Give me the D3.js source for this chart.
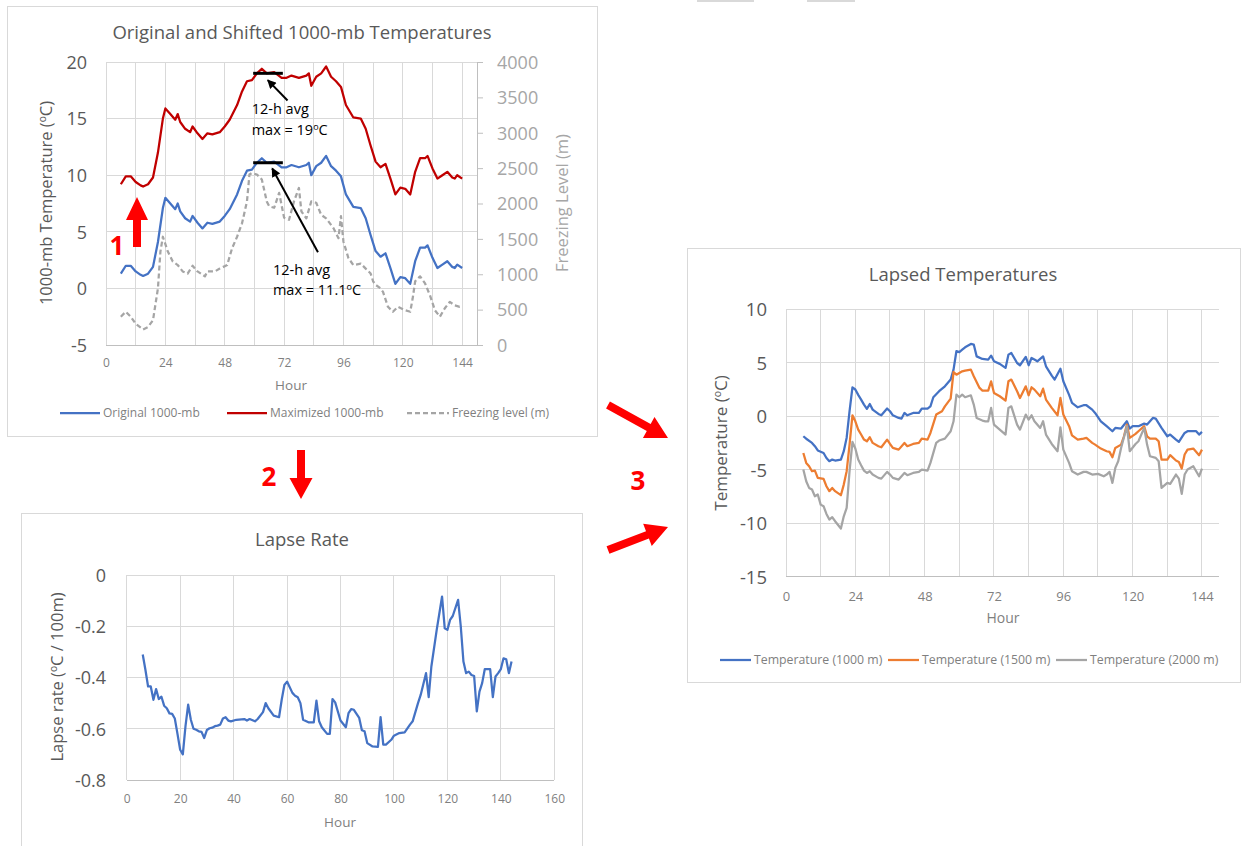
<!DOCTYPE html>
<html>
<head>
<meta charset="utf-8">
<script src="https://cdn.jsdelivr.net/npm/d3@7"></script>
<style>
  body { margin: 0; background: #fff; }
  svg { font-family: "Open Sans", sans-serif; }
</style>
</head>
<body>
<svg id="fig" width="1241" height="846"></svg>
<script>
// ---- data ----
// 1000-mb temperatures (original and shifted by the 12-h max difference)
const shiftHours = [6,8,10,12,14,15,17,19,21,23,24,26,28,29,30,32,34,35,37,39,41,43,46,48,50,53,55,57,59,61,63,65,68,71,73,75,78,81,82,83,85,87,89,91,93,95,97,100,103,105,107,109,111,113,115,117,119,121,123,125,127,129,130,132,134,136,138,140,141,142,144];
const origTemp = [1.3,2.0,2.0,1.5,1.2,1.1,1.3,1.9,4.1,7.1,8.0,7.5,7.0,7.5,6.8,6.2,5.9,6.4,5.8,5.3,5.8,5.7,5.9,6.4,7.0,8.3,9.5,10.4,10.5,11.1,11.5,11.1,11.2,10.7,10.7,10.9,10.7,10.9,11.1,10.0,10.8,11.1,11.7,10.8,10.4,9.9,8.3,7.2,7.1,6.2,4.7,3.3,2.8,3.1,1.8,0.4,1.0,0.9,0.4,2.4,3.6,3.6,3.8,2.7,1.8,2.1,2.4,1.9,1.8,2.1,1.8];
const maxTemp = [9.2,9.9,9.9,9.4,9.1,9.0,9.2,9.8,12.0,15.0,15.9,15.4,14.9,15.4,14.7,14.1,13.8,14.3,13.7,13.2,13.7,13.6,13.8,14.3,14.9,16.2,17.4,18.3,18.4,19.0,19.4,19.0,19.1,18.6,18.6,18.8,18.6,18.8,19.0,17.9,18.7,19.0,19.6,18.7,18.3,17.8,16.2,15.1,15.0,14.1,12.6,11.2,10.7,11.0,9.7,8.3,8.9,8.8,8.3,10.3,11.5,11.5,11.7,10.6,9.7,10.0,10.3,9.8,9.7,10.0,9.7];

// freezing level (m), secondary axis
const freezeHours = [6,8,10,12,15,17,19,21,22,23,25,27,29,31,33,35,37,40,41,44,46,49,51,53,55,57,58,59,61,63,65,66,68,70,72,74,76,78,79,81,83,85,87,89,92,94,95,96,98,100,103,105,107,108,109,111,112,114,116,118,121,123,124,125,127,129,131,133,135,137,139,141,143,144];
const freezeLevel = [400,470,400,300,220,255,350,800,1320,1530,1320,1180,1130,1040,1010,1120,1040,970,1040,1040,1080,1130,1370,1530,1720,2030,2410,2430,2410,2340,2030,1960,1940,2150,1800,1770,2030,2220,1890,1790,2030,2010,1840,1790,1650,1510,1820,1460,1230,1130,1150,1080,1010,900,850,800,750,540,470,540,490,470,660,900,970,870,700,490,400,520,610,560,540,550];

// lapse rate (degC / 100 m)
const lapseHours = [6,7,8,9,10,11,12,13,14,15,16,17,18,19,20,21,22,23,24,25,26,27,28,29,30,31,32,33,34,35,36,37,38,39,41,44,45,46,48,49,51,52,53,55,57,58,59,60,62,63,64,65,66,68,70,71,72,73,75,76,77,78,80,82,83,84,85,87,88,89,90,92,94,95,96,97,99,100,102,104,106,107,109,110,112,113,114,116,118,119,120,121,122,124,125,126,127,128,129,130,131,132,133,134,136,137,138,139,140,141,142,143,144];
const lapseRate = [-0.31,-0.37,-0.435,-0.435,-0.487,-0.445,-0.484,-0.475,-0.51,-0.52,-0.54,-0.542,-0.56,-0.62,-0.682,-0.70,-0.59,-0.506,-0.565,-0.60,-0.604,-0.61,-0.612,-0.636,-0.605,-0.598,-0.596,-0.59,-0.588,-0.584,-0.56,-0.555,-0.568,-0.571,-0.565,-0.562,-0.568,-0.562,-0.571,-0.562,-0.535,-0.50,-0.52,-0.549,-0.555,-0.487,-0.429,-0.416,-0.46,-0.471,-0.477,-0.50,-0.565,-0.575,-0.575,-0.49,-0.571,-0.594,-0.62,-0.62,-0.484,-0.497,-0.568,-0.594,-0.539,-0.523,-0.526,-0.558,-0.606,-0.61,-0.656,-0.669,-0.671,-0.555,-0.662,-0.662,-0.643,-0.627,-0.617,-0.614,-0.584,-0.571,-0.50,-0.468,-0.383,-0.477,-0.357,-0.214,-0.084,-0.208,-0.214,-0.175,-0.16,-0.097,-0.20,-0.338,-0.383,-0.377,-0.39,-0.394,-0.532,-0.455,-0.422,-0.367,-0.367,-0.477,-0.396,-0.383,-0.367,-0.325,-0.329,-0.383,-0.338];

// lapsed temperatures at three elevations
const t1000Hours = [6,7,9,10,11,13,14,15,16,17,19,20,21,22,23,24,25,26,27,28,29,30,32,33,35,36,37,39,40,41,42,44,46,47,49,50,51,53,55,57,58,59,60,61,62,64,65,66,68,70,71,72,74,76,77,78,80,81,83,84,85,86,87,89,90,92,93,95,96,98,99,101,103,104,106,107,109,111,113,114,116,118,119,120,122,124,125,127,128,130,132,133,135,136,138,139,142,143,144];
const t1000 = [-1.87,-2.1,-2.49,-2.8,-3.2,-3.43,-3.9,-4.2,-4.05,-4.14,-4.05,-3.27,-2.0,0.47,2.7,2.5,2.0,1.56,1.09,0.69,1.15,0.62,0.22,0.09,0.72,0.47,0.09,-0.16,-0.22,0.31,0.09,0.31,0.31,0.72,0.72,0.93,1.78,2.34,2.8,3.43,4.36,6.1,6.0,6.23,6.45,6.76,6.7,5.6,5.36,5.3,5.67,5.14,4.9,4.52,5.76,5.92,4.98,4.77,5.55,4.77,5.45,5.3,5.14,5.6,4.67,3.8,3.43,4.45,3.27,2.0,1.25,0.84,1.03,1.03,0.62,0.31,-0.47,-0.93,-1.4,-1.09,-1.15,-0.47,-1.15,-0.93,-0.93,-0.69,-0.78,-0.16,-0.22,-1.09,-1.87,-1.71,-2.18,-2.4,-1.56,-1.4,-1.4,-1.71,-1.46];
const t1500Hours = [6,7,8,9,10,11,13,14,15,16,17,19,20,21,22,23,24,25,26,27,28,29,30,32,33,35,36,37,39,41,42,44,46,47,49,50,52,54,55,57,58,59,61,62,64,65,67,68,70,71,72,74,76,77,78,80,81,83,84,85,86,88,89,90,92,94,95,96,98,99,101,103,104,106,107,109,111,112,113,114,116,117,118,119,121,122,124,125,126,128,129,130,132,133,135,136,137,138,139,141,143,144];
const t1500 = [-3.43,-4.36,-4.67,-5.14,-5.08,-5.76,-5.86,-6.54,-7.0,-6.7,-7.0,-7.38,-6.39,-5.14,-2.65,0.09,-0.47,-1.25,-1.71,-2.18,-2.34,-1.96,-2.49,-2.8,-2.9,-2.18,-2.59,-2.96,-3.12,-2.49,-2.8,-2.59,-2.49,-2.09,-2.18,-1.56,0.16,0.47,0.93,1.65,4.14,3.89,4.2,4.27,4.36,3.74,2.65,2.4,2.4,3.27,2.18,1.87,1.46,3.27,3.43,2.34,1.71,2.8,1.96,2.71,2.49,1.87,2.58,1.56,0.78,0.09,1.71,0.16,-0.93,-1.78,-2.18,-2.09,-2.02,-2.49,-2.65,-3.02,-3.27,-3.33,-3.83,-2.96,-2.65,-1.87,-0.78,-2.02,-1.65,-1.4,-0.93,-1.87,-2.09,-2.09,-2.34,-4.05,-4.05,-3.64,-4.14,-4.27,-4.89,-3.58,-3.12,-3.02,-3.64,-3.12];
const t2000Hours = [6,7,8,9,10,11,12,13,14,15,16,17,19,20,21,22,23,24,25,26,27,28,29,30,32,33,35,36,37,39,41,42,44,46,47,49,50,52,53,55,57,58,59,60,61,62,64,65,66,68,69,70,71,72,74,76,77,78,80,81,83,84,85,86,88,89,90,92,94,95,96,98,99,101,103,104,106,108,110,111,112,113,114,115,116,118,119,121,122,124,125,126,128,129,130,132,133,135,136,137,138,139,141,143,144];
const t2000 = [-4.98,-6.07,-6.7,-6.85,-7.48,-7.32,-8.26,-8.41,-9.13,-9.66,-9.44,-9.81,-10.5,-9.35,-8.57,-5.14,-2.4,-3.02,-4.05,-4.58,-5.08,-5.3,-5.14,-5.45,-5.76,-5.83,-5.2,-5.45,-5.76,-5.92,-5.3,-5.51,-5.3,-5.2,-4.98,-5.08,-4.36,-2.49,-2.27,-2.09,-1.4,-0.47,2.02,1.78,2.02,1.78,1.96,1.09,-0.16,-0.4,-0.47,-0.47,0.78,-0.78,-1.25,-1.71,0.78,0.93,-0.78,-1.25,0.16,-0.31,0.09,-0.47,-1.09,-0.47,-1.71,-2.59,-3.27,-1.03,-3.12,-4.36,-5.14,-5.45,-5.2,-5.2,-5.45,-5.39,-5.61,-5.45,-5.2,-6.23,-4.83,-4.2,-2.96,-0.93,-3.27,-2.59,-2.34,-1.09,-2.65,-3.74,-3.89,-4.2,-6.7,-6.23,-6.32,-5.45,-5.83,-7.26,-5.45,-4.98,-4.67,-5.61,-4.89];

// ticks
const topXTicks = [0,24,48,72,96,120,144];
const topYTicks = [-5,0,5,10,15,20];
const freezeTicks = [0,500,1000,1500,2000,2500,3000,3500,4000];
const lapseXTicks = [0,20,40,60,80,100,120,140,160];
const lapseYTicks = [-0.8,-0.6,-0.4,-0.2,0];
const lapsedYTicks = [-15,-10,-5,0,5,10];

// ---- styles ----
const GRID = "#d9d9d9", AXIS = "#bfbfbf", TXT = "#595959", TXT2 = "#7f7f7f";
const BLUE = "#4472c4", RED = "#c00000", ORANGE = "#ed7d31", GREY = "#a5a5a5", ARROW = "#ff0000";

const svg = d3.select("#fig");
svg.append("rect").attr("width", 1241).attr("height", 846).attr("fill", "#fff");
svg.append("defs").append("marker")
    .attr("id", "ah")
    .attr("viewBox", "0 0 10 10")
    .attr("refX", 9).attr("refY", 5)
    .attr("markerWidth", 10).attr("markerHeight", 9)
    .attr("markerUnits", "userSpaceOnUse")
    .attr("orient", "auto")
    .append("path").attr("d", "M0,0L10,5L0,10z").attr("fill", "#000");

function panel(x, y, w, h){
    svg.append("rect")
        .attr("x", x + 0.5).attr("y", y + 0.5)
        .attr("width", w).attr("height", h)
        .attr("fill", "#fff").attr("stroke", GRID);
}

function grid(x, y, xs, ys){
    const g = svg.append("g").attr("shape-rendering", "crispEdges");
    g.selectAll(null).data(xs).enter().append("line")
        .attr("x1", d => x(d)).attr("x2", d => x(d))
        .attr("y1", y.range()[0]).attr("y2", y.range()[1])
        .attr("stroke", GRID);
    g.selectAll(null).data(ys).enter().append("line")
        .attr("x1", x.range()[0]).attr("x2", x.range()[1])
        .attr("y1", d => y(d)).attr("y2", d => y(d))
        .attr("stroke", GRID);
    // horizontal axis line
    g.append("line")
        .attr("x1", x.range()[0]).attr("x2", x.range()[1])
        .attr("y1", y.range()[0]).attr("y2", y.range()[0])
        .attr("stroke", AXIS);
}

function xTicks(x, vals, ypos, fs){
    const ax = svg.append("g")
        .attr("transform", `translate(0,${ypos})`)
        .call(d3.axisBottom(x).tickValues(vals).tickSize(0).tickPadding(0).tickFormat(d => String(d)));
    ax.select(".domain").remove();
    ax.selectAll("text").attr("y", 0).attr("dy", "0.35em")
        .attr("fill", TXT2).style("font-size", fs + "px").style("font-family", "Open Sans");
}

function yTicks(y, vals, xpos, fs, fmt){
    const ax = svg.append("g")
        .attr("transform", `translate(${xpos},0)`)
        .call(d3.axisLeft(y).tickValues(vals).tickSize(0).tickPadding(0).tickFormat(fmt || (d => String(d))));
    ax.select(".domain").remove();
    ax.selectAll("text").attr("x", 0).attr("dy", "0.35em")
        .attr("fill", TXT).style("font-size", fs + "px").style("font-family", "Open Sans");
}

function text(x, y, str, fs, color, anchor){
    return svg.append("text")
        .attr("x", x).attr("y", y).attr("dy", "0.35em")
        .attr("text-anchor", anchor || "middle")
        .attr("fill", color).style("font-size", fs + "px")
        .text(str);
}

// text with a small raised "o" used as the degree sign
function degText(sel, before, after){
    sel.append("tspan").text(before);
    sel.append("tspan").style("font-size", "0.62em").attr("dy", "-0.55em").text("o");
    sel.append("tspan").attr("dy", "0.341em").text(after);
    return sel;
}

function vLabel(cx, cy, before, after, fs, color){
    const t = svg.append("text")
        .attr("transform", `translate(${cx},${cy}) rotate(-90)`)
        .attr("text-anchor", "middle").attr("dy", "0.35em")
        .attr("fill", color).style("font-size", fs + "px");
    if(after === null) t.text(before); else degText(t, before, after);
}

function series(x, y, hours, vals, color, dash){
    const pts = vals.map((v, i) => [hours[i], v]).filter(d => d[0] !== undefined);
    svg.append("path")
        .datum(pts)
        .attr("d", d3.line().x(d => x(d[0])).y(d => y(d[1])))
        .attr("fill", "none")
        .attr("stroke", color)
        .attr("stroke-width", 2.25)
        .attr("stroke-linejoin", "round")
        .attr("stroke-dasharray", dash || null);
}

function legendItem(x, y, len, color, label, fs, dash){
    svg.append("line")
        .attr("x1", x).attr("x2", x + len).attr("y1", y).attr("y2", y)
        .attr("stroke", color).attr("stroke-width", 2.25)
        .attr("stroke-dasharray", dash || null);
    text(x + len + 3, y, label, fs, TXT2, "start");
}

function blockArrow(x0, y0, x1, y1, sw, hw, hl){
    const L = Math.hypot(x1 - x0, y1 - y0), ux = (x1 - x0) / L, uy = (y1 - y0) / L;
    const nx = -uy, ny = ux, bx = x1 - ux * hl, by = y1 - uy * hl;
    const p = [
        [x0 + nx * sw / 2, y0 + ny * sw / 2], [bx + nx * sw / 2, by + ny * sw / 2],
        [bx + nx * hw / 2, by + ny * hw / 2], [x1, y1],
        [bx - nx * hw / 2, by - ny * hw / 2], [bx - nx * sw / 2, by - ny * sw / 2],
        [x0 - nx * sw / 2, y0 - ny * sw / 2]
    ];
    svg.append("polygon").attr("points", p.map(d => d.join(",")).join(" ")).attr("fill", ARROW);
}

// faint strips along the top edge
svg.append("rect").attr("x", 697).attr("y", 0).attr("width", 57).attr("height", 2).attr("fill", GRID);
svg.append("rect").attr("x", 807).attr("y", 0).attr("width", 48).attr("height", 2).attr("fill", GRID);

// ================= 1. Original and shifted temperatures =================
panel(7, 6, 590, 430);
const xT = d3.scaleLinear().domain([0, 150]).range([106, 477]);
const yT = d3.scaleLinear().domain([-5, 20]).range([345, 62]);
const yF = d3.scaleLinear().domain([0, 4000]).range([345, 62]);

grid(xT, yT, d3.range(0, 145, 12), topYTicks);
const rAx = svg.append("g")
    .attr("transform", `translate(${xT(150)},0)`)
    .call(d3.axisRight(yF).tickValues(freezeTicks).tickSize(6).tickSizeOuter(0).tickPadding(14)
        .tickFormat(d => String(d)));
rAx.select(".domain").attr("stroke", AXIS);
rAx.selectAll("line").attr("stroke", AXIS);
rAx.selectAll("text").attr("fill", "#a6a6a6").attr("dy", "0.35em")
    .style("font-size", "18px").style("font-family", "Open Sans");

xTicks(xT, topXTicks, 363, 12);
yTicks(yT, topYTicks, 87, 18);
text(302, 33, "Original and Shifted 1000-mb Temperatures", 18.5, TXT);
text(291, 385, "Hour", 13.5, TXT2);
vLabel(46, 203, "1000-mb Temperature (", "C)", 16.5, TXT);
vLabel(562, 203, "Freezing Level (m)", null, 16.5, "#a6a6a6");

series(xT, yT, shiftHours, origTemp, BLUE);
series(xT, yT, shiftHours, maxTemp, RED);
series(xT, yF, freezeHours, freezeLevel, GREY, "5,3");

// 12-h average maximum annotations
[19, 11.1].forEach(v => {
    svg.append("line")
        .attr("x1", xT(59.5)).attr("x2", xT(71.5))
        .attr("y1", yT(v)).attr("y2", yT(v))
        .attr("stroke", "#000").attr("stroke-width", 3);
});
svg.append("line")
    .attr("x1", xT(73.4)).attr("y1", yT(16.6))
    .attr("x2", xT(65.4)).attr("y2", yT(18.4))
    .attr("stroke", "#000").attr("stroke-width", 2).attr("marker-end", "url(#ah)");
svg.append("line")
    .attr("x1", xT(85.7)).attr("y1", yT(3.2))
    .attr("x2", xT(67.2)).attr("y2", yT(10.6))
    .attr("stroke", "#000").attr("stroke-width", 2).attr("marker-end", "url(#ah)");
text(xT(58.9), yT(15.85), "12-h avg", 14.5, "#000", "start");
degText(text(xT(58.9), yT(14.0), "", 14.5, "#000", "start"), "max = 19", "C");
text(xT(67.5), yT(1.65), "12-h avg", 14.5, "#000", "start");
degText(text(xT(67.5), yT(-0.15), "", 14.5, "#000", "start"), "max = 11.1", "C");

legendItem(60, 413, 40, BLUE, "Original 1000-mb", 12);
legendItem(227, 413, 40, RED, "Maximized 1000-mb", 12);
legendItem(407, 413, 42, GREY, "Freezing level (m)", 12, "5,3");

// ================= 2. Lapse rate =================
panel(21, 513, 561, 345);
const xL = d3.scaleLinear().domain([0, 160]).range([126.7, 554.3]);
const yL = d3.scaleLinear().domain([-0.8, 0]).range([780, 575]);
grid(xL, yL, lapseXTicks, lapseYTicks);
xTicks(xL, lapseXTicks, 799, 12);
yTicks(yL, lapseYTicks, 106, 18, d => d === 0 ? "0" : d.toFixed(1));
text(302, 540, "Lapse Rate", 18.5, TXT);
text(340, 822, "Hour", 13.5, TXT2);
vLabel(57, 677, "Lapse rate (", "C / 100m)", 16.5, TXT);
series(xL, yL, lapseHours, lapseRate, BLUE);

// ================= 3. Lapsed temperatures =================
panel(687, 248, 553, 434);
const xP = d3.scaleLinear().domain([0, 150]).range([786, 1219.3]);
const yP = d3.scaleLinear().domain([-15, 10]).range([576.7, 309.3]);
grid(xP, yP, d3.range(0, 145, 12), lapsedYTicks);
xTicks(xP, topXTicks, 596, 13);
yTicks(yP, lapsedYTicks, 767, 18.5);
text(963, 275, "Lapsed Temperatures", 18.5, TXT);
text(1003, 618, "Hour", 14, TXT2);
vLabel(721, 443, "Temperature (", "C)", 17, TXT);
series(xP, yP, t1000Hours, t1000, BLUE);
series(xP, yP, t1500Hours, t1500, ORANGE);
series(xP, yP, t2000Hours, t2000, GREY);
legendItem(720, 660, 31, BLUE, "Temperature (1000 m)", 12.3);
legendItem(888, 660, 31, ORANGE, "Temperature (1500 m)", 12.3);
legendItem(1056, 660, 31, GREY, "Temperature (2000 m)", 12.3);

// ================= red step markers =================
blockArrow(137, 247, 137, 197, 8, 22, 23);
blockArrow(301, 450, 301, 499, 8, 23, 21);
blockArrow(608, 405, 668, 438, 8, 24, 22);
blockArrow(608, 550, 668, 527, 8, 24, 22);
[["1", 117, 246], ["2", 269, 477], ["3", 638, 481]].forEach(d => {
    text(d[1], d[2], d[0], 26, ARROW).style("font-weight", "bold");
});
</script>
</body>
</html>
